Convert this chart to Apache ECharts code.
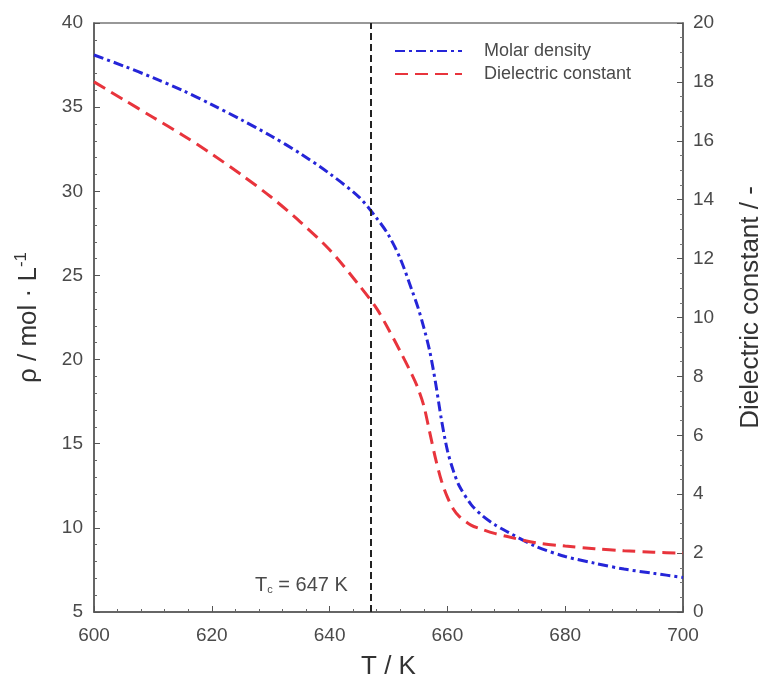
<!DOCTYPE html>
<html>
<head>
<meta charset="utf-8">
<script src="https://cdn.jsdelivr.net/npm/echarts@6/dist/echarts.min.js"></script>
<style>html,body{margin:0;padding:0;background:#fff}#c{width:760px;height:681px}</style>
</head>
<body>
<div id="c"></div>
<script>
var densityT = [600,605,610,615,620,625,630,635,640,645,648,650,652,654,655,656,657,658,659,660,661,662,664,666,668,670,675,680,685,690,695,700];
var densityV = [38.1,37.45,36.75,36.0,35.15,34.25,33.3,32.25,31.05,29.65,28.4,27.4,26.0,24.1,23.1,21.9,20.5,18.6,16.4,14.6,13.4,12.5,11.4,10.7,10.2,9.8,8.9,8.3,7.9,7.55,7.3,7.05];
var dielT = [600,605,610,615,620,625,630,635,640,645,648,650,652,654,655,656,657,658,659,660,661,662,664,666,668,670,675,680,685,690,695,700];
var dielV = [18.0,17.4,16.8,16.2,15.55,14.85,14.1,13.25,12.3,11.1,10.3,9.6,8.85,8.05,7.6,7.0,6.1,5.2,4.45,3.9,3.5,3.25,2.95,2.8,2.67,2.57,2.35,2.24,2.15,2.08,2.03,2.0];
var seriesNames = ['Molar density','Dielectric constant'];
var Tc = 647;
var xTicks = {min:600, max:700, interval:20};
var leftTicks = {min:5, max:40, interval:5};
var rightTicks = {min:0, max:20, interval:2};

var FONT = '"Liberation Sans", Arial, sans-serif';
var TXT = '#4a4a4a';
function pairs(xs, ys){ return xs.map(function(x,i){ return [x, ys[i]]; }); }

var chart = echarts.init(document.getElementById('c'), null, {renderer:'canvas'});
chart.setOption({
  animation:false,
  backgroundColor:'#fff',
  textStyle:{fontFamily:FONT},
  grid:{left:94, right:77, top:23, bottom:69, outerBoundsMode:'none', containLabel:false,
        show:true, borderColor:'#777', borderWidth:1.5},
  legend:{
    data:seriesNames, orient:'vertical', left:389, top:37,
    itemWidth:67, itemHeight:14, itemGap:5,
    itemStyle:{opacity:0},
    textStyle:{fontSize:18, color:TXT, fontFamily:FONT, padding:[0,0,0,17]}
  },
  xAxis:{
    type:'value', min:xTicks.min, max:xTicks.max, interval:xTicks.interval,
    name:'T / K', nameLocation:'middle', nameGap:42,
    nameTextStyle:{fontSize:26, color:'#333', fontFamily:FONT},
    axisLine:{lineStyle:{color:'#555', width:1.5}},
    axisTick:{inside:true, length:6, lineStyle:{color:'#555'}},
    minorTick:{show:true, splitNumber:5, length:3, lineStyle:{color:'#666'}},
    axisLabel:{fontSize:19, color:TXT, margin:14},
    splitLine:{show:false}
  },
  yAxis:[{
    type:'value', min:leftTicks.min, max:leftTicks.max, interval:leftTicks.interval,
    name:'ρ / mol · L{sup|-1}', nameLocation:'middle', nameGap:50,
    nameTextStyle:{fontSize:26, color:'#333', fontFamily:FONT,
      rich:{sup:{fontSize:17, color:'#333', fontFamily:FONT, padding:[0,0,14,0]}}},
    axisLine:{show:true, lineStyle:{color:'#555', width:1.5}},
    axisTick:{inside:true, length:6, lineStyle:{color:'#555'}},
    minorTick:{show:true, splitNumber:5, length:3, lineStyle:{color:'#666'}},
    axisLabel:{fontSize:19, color:TXT, margin:11},
    splitLine:{show:false}
  },{
    type:'value', position:'right', min:rightTicks.min, max:rightTicks.max, interval:rightTicks.interval,
    name:'Dielectric constant / -', nameLocation:'middle', nameGap:55, nameRotate:90,
    nameTextStyle:{fontSize:26, color:'#333', fontFamily:FONT, padding:[0,0,0,20]},
    axisLine:{show:true, lineStyle:{color:'#555', width:1.5}},
    axisTick:{inside:true, length:6, lineStyle:{color:'#555'}},
    minorTick:{show:true, splitNumber:4, length:3, lineStyle:{color:'#777'}},
    axisLabel:{fontSize:19, color:TXT, margin:10},
    splitLine:{show:false}
  }],
  series:[{
    name:seriesNames[0], type:'line', yAxisIndex:0, showSymbol:false, symbol:'none',
    smooth:0.3, data:pairs(densityT, densityV),
    lineStyle:{color:'#2525d8', width:3, type:[10,4,3,4]},
    itemStyle:{color:'#2525d8'},
    markLine:{
      silent:true, symbol:['none','none'],
      label:{show:false},
      lineStyle:{color:'#222', width:2, type:[7,4]},
      data:[{xAxis:Tc}]
    },
    markPoint:{
      silent:true, symbol:'circle', symbolSize:0,
      data:[{coord:[Tc, 6.6]}],
      label:{show:true, position:'left', distance:23,
        formatter:'T{sub|c} = ' + Tc + ' K',
        fontSize:20, color:TXT, fontFamily:FONT,
        rich:{sub:{fontSize:11, color:TXT, fontFamily:FONT, padding:[10,0,0,0]}}}
    }
  },{
    name:seriesNames[1], type:'line', yAxisIndex:1, showSymbol:false, symbol:'none',
    smooth:0.3, data:pairs(dielT, dielV),
    lineStyle:{color:'#e8343c', width:3, type:[13,7]},
    itemStyle:{color:'#e8343c'}
  }]
});
</script>
</body>
</html>
